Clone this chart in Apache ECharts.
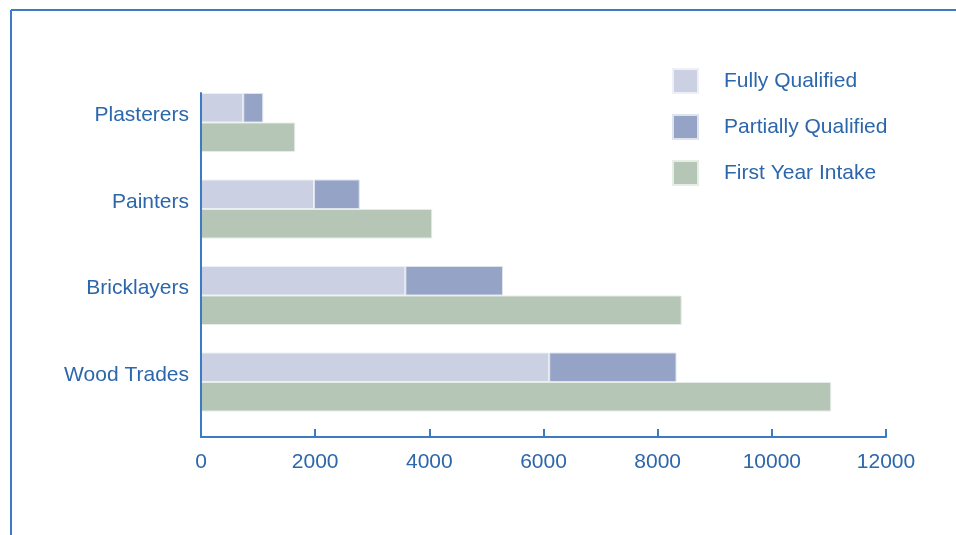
<!DOCTYPE html>
<html>
<head>
<meta charset="utf-8">
<script src="https://cdn.jsdelivr.net/npm/echarts@6/dist/echarts.min.js"></script>
<style>
html,body{margin:0;padding:0;background:#fff;}
#c{width:956px;height:535px;}
</style>
</head>
<body>
<div id="c"></div>
<script>
var categories = ['Plasterers', 'Painters', 'Bricklayers', 'Wood Trades'];
var fullyQualified = [740, 1980, 3580, 6100];
var partiallyQualified = [350, 800, 1710, 2230];
var firstYearIntake = [1650, 4050, 8420, 11040];
var xTicks = { min: 0, max: 12000, interval: 2000 };

var textColor = '#2c66ab';
var axisColor = '#3b7bc2';
var font = 'Liberation Sans, Arial, sans-serif';

var chart = echarts.init(document.getElementById('c'));
chart.setOption({
  animation: false,
  textStyle: { fontFamily: font },
  graphic: [
    { type: 'line', shape: { x1: 11, y1: 10, x2: 956, y2: 10 }, style: { stroke: axisColor, lineWidth: 2 } },
    { type: 'line', shape: { x1: 11, y1: 10, x2: 11, y2: 535 }, style: { stroke: axisColor, lineWidth: 2 } }
  ],
  legend: {
    orient: 'vertical',
    left: 672,
    top: 68,
    padding: 0,
    itemWidth: 25,
    itemHeight: 24,
    itemGap: 20,
    icon: 'rect',
    data: ['Fully Qualified', 'Partially Qualified', 'First Year Intake'],
    textStyle: { color: textColor, fontSize: 21, lineHeight: 24, fontFamily: font, padding: [0, 0, 0, 21] }
  },
  grid: [
    { left: 201, right: 70, top: 79.25, bottom: 109.75 },
    { left: 201, right: 70, top: 93, bottom: 98 }
  ],
  xAxis: [
    {
      gridIndex: 0,
      type: 'value',
      min: xTicks.min, max: xTicks.max, interval: xTicks.interval,
      offset: 11.75,
      axisLine: { show: true, lineStyle: { color: axisColor, width: 2 } },
      axisTick: { show: true, inside: true, length: 8, lineStyle: { color: axisColor, width: 2 } },
      splitLine: { show: false },
      axisLabel: { color: textColor, fontSize: 21, fontFamily: font, margin: 15,
        formatter: function (v) { return String(v); } }
    },
    { gridIndex: 1, type: 'value', show: false }
  ],
  yAxis: [
    {
      gridIndex: 0,
      type: 'category',
      inverse: true,
      data: categories,
      axisLine: { show: false },
      axisTick: { show: false },
      axisLabel: { color: textColor, fontSize: 21, fontFamily: font, margin: 12,
        verticalAlign: 'bottom', lineHeight: 14 }
    },
    {
      gridIndex: 1,
      type: 'category',
      data: [],
      z: 10,
      axisLine: { show: true, lineStyle: { color: axisColor, width: 2 } },
      axisTick: { show: false },
      axisLabel: { show: false },
      splitLine: { show: false }
    }
  ],
  series: [
    {
      name: 'Fully Qualified', type: 'bar', stack: 'q', xAxisIndex: 0, yAxisIndex: 0,
      barWidth: 29.5, barGap: '0%',
      itemStyle: { color: '#cbd1e2', borderColor: '#eef0f5', borderWidth: 1 },
      data: fullyQualified
    },
    {
      name: 'Partially Qualified', type: 'bar', stack: 'q', xAxisIndex: 0, yAxisIndex: 0,
      barWidth: 29.5, barGap: '0%',
      itemStyle: { color: '#95a4c6', borderColor: '#dfe3ee', borderWidth: 1 },
      data: partiallyQualified
    },
    {
      name: 'First Year Intake', type: 'bar', xAxisIndex: 0, yAxisIndex: 0,
      barWidth: 29.5, barGap: '0%',
      itemStyle: { color: '#b5c5b6', borderColor: '#e6ece6', borderWidth: 1 },
      data: firstYearIntake
    }
  ]
});
</script>
</body>
</html>
